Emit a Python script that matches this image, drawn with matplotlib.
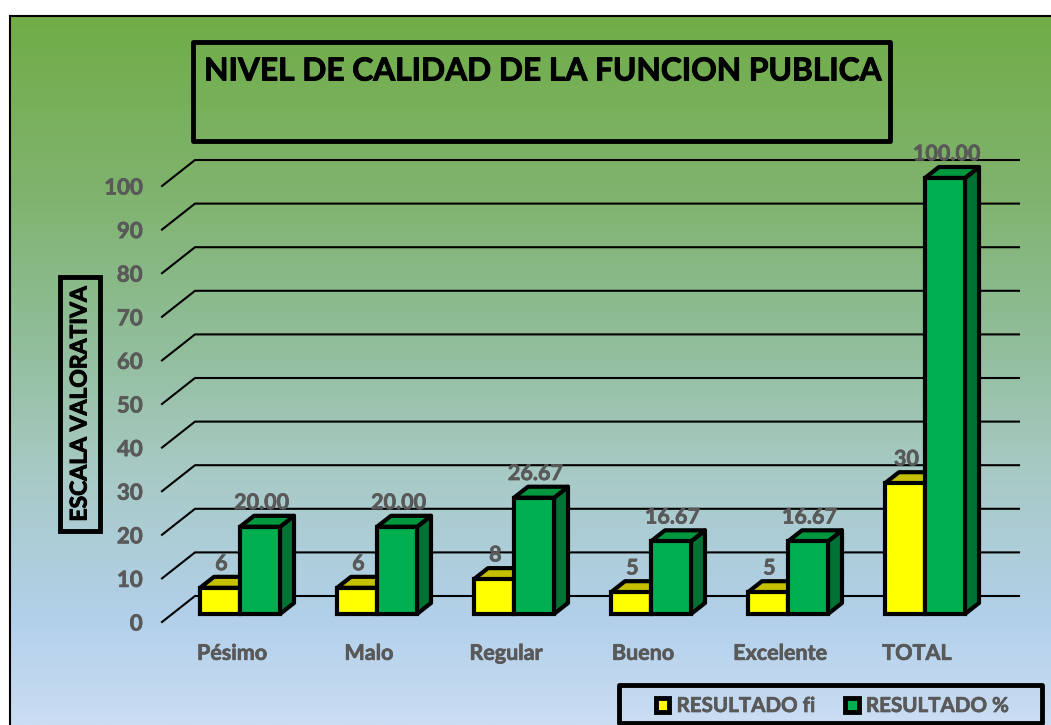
import numpy as np
import matplotlib
matplotlib.use("Agg")
import matplotlib.pyplot as plt
import matplotlib.patheffects as pe
from matplotlib.colors import LinearSegmentedColormap
from matplotlib.patches import Patch, Rectangle

categories = ["Pésimo", "Malo", "Regular", "Bueno", "Excelente", "TOTAL"]
resultado_fi = [6, 6, 8, 5, 5, 30]
resultado_pct = [20.00, 20.00, 26.67, 16.67, 16.67, 100.00]
fi_labels = ["6", "6", "8", "5", "5", "30"]
pct_labels = ["20.00", "20.00", "26.67", "16.67", "16.67", "100.00"]
y_ticks = [0, 10, 20, 30, 40, 50, 60, 70, 80, 90, 100]

W, H = 1051, 725
GRAY = "#595959"

plt.rcParams["font.family"] = ["Lato", "DejaVu Sans"]
plt.rcParams["font.weight"] = "bold"

# Lato bold is a bit lighter than the original face
thick = [pe.withStroke(linewidth=0.5, foreground=GRAY)]
thick_black = [pe.withStroke(linewidth=0.7, foreground="black")]


def fx(px):
    return px / W


def fy(py):
    return 1 - py / H


fig = plt.figure(figsize=(W / 100, H / 100), dpi=100, facecolor="white")

# gradient background
bg = fig.add_axes([fx(10), 0, 1 - fx(10), fy(16)], zorder=0)
cmap = LinearSegmentedColormap.from_list("bg", [
    (0.0, "#70AD47"), (0.25, "#80B36E"), (0.45, "#90BD98"),
    (0.65, "#A8CAC6"), (0.85, "#B2D0EA"), (1.0, "#CADDF3")])
bg.imshow(np.linspace(0, 1, 256).reshape(-1, 1), aspect="auto", cmap=cmap)
bg.set_xticks([])
bg.set_yticks([])
for name in ["right", "bottom"]:
    bg.spines[name].set_visible(False)
for name in ["left", "top"]:
    bg.spines[name].set_linewidth(1.5)

# front plane of the 3d chart
ax = fig.add_axes([fx(162), fy(622), fx(986 - 162), fy(186) - fy(622)], zorder=1)
ax.patch.set_alpha(0)
ax.set_xlim(-70 / 137, 754 / 137)
ax.set_ylim(0, 100)
for s in ax.spines.values():
    s.set_visible(False)

px_x = 1 / 137
px_y = 1 / 4.36
depth_x = 33 * px_x
depth_y = 26 * px_y
bar_dx = 14 * px_x
bar_dy = 11 * px_y
floor = 8 * px_y
bar_w = 40 * px_x
shift = 8 * px_x
edge = 3

# wall lines
x0, x1 = ax.get_xlim()
for v in y_ticks:
    ax.plot([x0, x0 + depth_x, x1 + depth_x], [v, v + depth_y, v + depth_y],
            color="black", lw=1.5, clip_on=False, zorder=1)


def draw_bar(x, value, front, top, side, z):
    left, right = x - bar_w / 2, x + bar_w / 2
    high = floor + value
    ax.fill([right, right + bar_dx, right + bar_dx, right],
            [floor, floor + bar_dy, high + bar_dy, high],
            facecolor=side, edgecolor="black", lw=edge, joinstyle="round",
            clip_on=False, zorder=z)
    ax.fill([left, left + bar_dx, right + bar_dx, right],
            [high, high + bar_dy, high + bar_dy, high],
            facecolor=top, edgecolor="black", lw=edge, joinstyle="round",
            clip_on=False, zorder=z)
    ax.bar(x, value, bar_w, bottom=floor, color=front, edgecolor="black",
           lw=edge, clip_on=False, zorder=z + 0.1)


positions = np.arange(len(categories))
for i in positions:
    draw_bar(i + shift - bar_w / 2, resultado_fi[i], "#FFFF00", "#C4C000", "#C4C000", 2)
    draw_bar(i + shift + bar_w / 2, resultado_pct[i], "#00B050", "#00973F", "#007233", 3)
    for x, val, lab in [(i + shift - bar_w / 2, resultado_fi[i], fi_labels[i]),
                        (i + shift + bar_w / 2, resultado_pct[i], pct_labels[i])]:
        ax.annotate(lab, (x, floor + val + bar_dy), xytext=(1, 9.5),
                    textcoords="offset points", ha="center", va="center",
                    fontsize=15.5, color=GRAY, zorder=5, annotation_clip=False,
                    path_effects=thick)

ax.set_xticks(positions, categories)
ax.set_yticks(y_ticks)
ax.tick_params(axis="x", length=0, labelsize=15.5, labelcolor=GRAY, pad=15)
ax.tick_params(axis="y", length=0, labelsize=16, labelcolor=GRAY, pad=14)
for t in ax.get_xticklabels() + ax.get_yticklabels():
    t.set_path_effects(thick)

# title box
fig.add_artist(Rectangle((fx(193), fy(141)), fx(890 - 193), fy(42) - fy(141),
                         fill=False, ec="black", lw=3.5, transform=fig.transFigure,
                         joinstyle="round", zorder=3))
fig.text(fx(542), fy(71), "NIVEL DE CALIDAD DE LA FUNCION PUBLICA", ha="center",
         va="center", fontsize=22.8, color="black", zorder=4, path_effects=thick_black)

# axis label with its box
fig.text(fx(80), fy(404), "ESCALA VALORATIVA", rotation=90, ha="center", va="center",
         fontsize=16.5, color="black", zorder=4, path_effects=thick_black,
         bbox=dict(boxstyle="square,pad=0.4", fc="none", ec="black", lw=3.5))

# legend box
fig.add_artist(Rectangle((fx(619), fy(723)), fx(1042 - 619), fy(685) - fy(723),
                         fill=False, ec="black", lw=3.5, transform=fig.transFigure,
                         joinstyle="round", zorder=3))
handles = [Patch(facecolor="#FFFF00", edgecolor="black", lw=3.5, label="RESULTADO fi"),
           Patch(facecolor="#00B050", edgecolor="black", lw=3.5, label="RESULTADO %")]
leg = fig.legend(handles=handles, ncol=2, frameon=False, loc="center left",
                 bbox_to_anchor=(fx(656), fy(706)), fontsize=14.8, labelcolor=GRAY,
                 handlelength=0.65, handleheight=0.65, handletextpad=0.35,
                 columnspacing=1.5, borderpad=0, borderaxespad=0)
for t in leg.get_texts():
    t.set_path_effects(thick)

fig.savefig("out.png", dpi=100)
plt.close()
